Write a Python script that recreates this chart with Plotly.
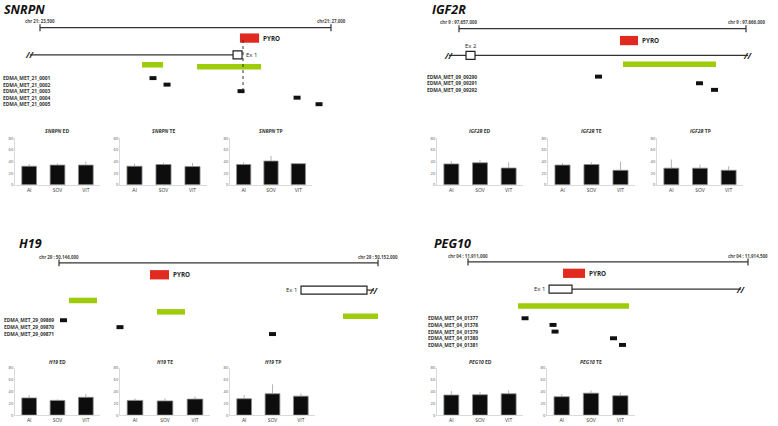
import plotly.graph_objects as go

W, H = 778, 426

# ---------------- data ----------------
groups = ["AI", "SOV", "VIT"]

snrpn_ed = [32, 34, 34]
snrpn_ed_err = [4, 3, 6]
snrpn_te = [32, 35, 31.5]
snrpn_te_err = [4.5, 3, 6]
snrpn_tp = [35, 41, 36.5]
snrpn_tp_err = [4, 9, 0.5]

igf2r_ed = [36, 38, 29]
igf2r_ed_err = [5, 4.5, 10]
igf2r_te = [34, 35, 25]
igf2r_te_err = [3.5, 3.7, 15]
igf2r_tp = [28.7, 28.7, 25]
igf2r_tp_err = [15, 6, 7]

h19_ed = [29, 24.8, 30]
h19_ed_err = [4.5, 1.7, 6]
h19_te = [24.8, 24, 27]
h19_te_err = [3.2, 4, 4.5]
h19_tp = [27.6, 36, 32]
h19_tp_err = [6, 16, 4.6]

peg10_ed = [33.8, 34.3, 36]
peg10_ed_err = [6.7, 5, 5.7]
peg10_te = [31, 37, 32.7]
peg10_te_err = [4, 4.7, 5.3]

# genomic features (bp)
snrpn_scale = [23500, 27000]
snrpn_scale_labels = ["chr 21: 23,500", "chr21: 27,000"]
snrpn_gene = [23380, 25822]
snrpn_exon = [25822, 25930]
snrpn_pyro = [25905, 26135]
snrpn_cpg = [[24727, 24980], [25389, 26159]]
snrpn_tss = 25942
snrpn_probes = ["EDMA_MET_21_0001", "EDMA_MET_21_0002", "EDMA_MET_21_0003",
                "EDMA_MET_21_0004", "EDMA_MET_21_0005"]
snrpn_probe_pos = [24859, 25028, 25918, 26592, 26856]

igf2r_scale = [97657000, 97666000]
igf2r_scale_labels = ["chr 9 : 97,657,000", "chr 9 : 97,666,000"]
igf2r_gene = [97656686, 97666063]
igf2r_exon = [97657220, 97657502]
igf2r_pyro = [97662049, 97662613]
igf2r_cpg = [[97662143, 97665059]]
igf2r_probes = ["EDMA_MET_09_09290", "EDMA_MET_09_09291", "EDMA_MET_09_09292"]
igf2r_probe_pos = [97661375, 97664542, 97665013]

h19_scale = [50146000, 50152000]
h19_scale_labels = ["chr 29 : 50,146,000", "chr 29 : 50,152,000"]
h19_gene = [50151793, 50151925]
h19_exon = [50150552, 50151793]
h19_pyro = [50147712, 50148069]
h19_cpg = [[50146188, 50146715], [50147843, 50148370], [50151342, 50152000]]
h19_probes = ["EDMA_MET_29_09869", "EDMA_MET_29_09870", "EDMA_MET_29_09871"]
h19_probe_pos = [50146085, 50147147, 50150016]

peg10_scale = [11911000, 11914500]
peg10_scale_labels = ["chr 04 : 11,911,000", "chr 04 : 11,914,500"]
peg10_gene = [11912300, 11914413]
peg10_exon = [11912013, 11912300]
peg10_pyro = [11912188, 11912463]
peg10_cpg = [[11911625, 11913013]]
peg10_probes = ["EDMA_MET_04_01377", "EDMA_MET_04_01378", "EDMA_MET_04_01379",
                "EDMA_MET_04_01380", "EDMA_MET_04_01381"]
peg10_probe_pos = [11911713, 11912063, 11912088, 11912819, 11912931]

# ---------------- layout helpers ----------------
RED = "#e02a1f"
GREEN = "#9ccc0a"
TXT = "#262626"
FONT = "Open Sans"

fig = go.Figure()
shapes = []
annots = []
layout = {}

def px_x(p):
    return p / W

def px_y(p):
    return 1 - p / H

# shared vertical axis for diagrams, in pixel rows
layout["yaxis"] = dict(domain=[0, 1], range=[H, 0], visible=False, fixedrange=True)

diagrams = [
    dict(name="SNRPN", scale=snrpn_scale, labels=snrpn_scale_labels, gene=snrpn_gene,
         exon=snrpn_exon, pyro=snrpn_pyro, cpg=snrpn_cpg, probes=snrpn_probes,
         probe_pos=snrpn_probe_pos, tss=snrpn_tss, exon_label="Ex 1", exon_side="right",
         breaks=["left"], dom=[0, 390], sx=[40, 331], title_x=2,
         rows=dict(title=6.5, lab=18, scale=25, pyro=35.5, gene=52.5, cpg=[62.5, 64.5],
                   probe0=76, dprobe=6.6, probe_x=1)),
    dict(name="IGF2R", scale=igf2r_scale, labels=igf2r_scale_labels, gene=igf2r_gene,
         exon=igf2r_exon, pyro=igf2r_pyro, cpg=igf2r_cpg, probes=igf2r_probes,
         probe_pos=igf2r_probe_pos, tss=None, exon_label="Ex 2", exon_side="top",
         breaks=["left", "right"], dom=[390, 778], sx=[459, 746], title_x=430,
         rows=dict(title=7, lab=19, scale=26, pyro=38, gene=53, cpg=[62],
                   probe0=74.5, dprobe=6.7, probe_x=425)),
    dict(name="H19", scale=h19_scale, labels=h19_scale_labels, gene=h19_gene,
         exon=h19_exon, pyro=h19_pyro, cpg=h19_cpg, probes=h19_probes,
         probe_pos=h19_probe_pos, tss=None, exon_label="Ex 1", exon_side="left",
         breaks=["right"], dom=[0, 390], sx=[59, 378], title_x=17,
         rows=dict(title=243, lab=257, scale=263, pyro=275, gene=290.5,
                   cpg=[301, 312.5, 317], probe0=321, dprobe=7, probe_x=2)),
    dict(name="PEG10", scale=peg10_scale, labels=peg10_scale_labels, gene=peg10_gene,
         exon=peg10_exon, pyro=peg10_pyro, cpg=peg10_cpg, probes=peg10_probes,
         probe_pos=peg10_probe_pos, tss=None, exon_label="Ex 1", exon_side="left",
         breaks=["right"], dom=[390, 778], sx=[468, 748], title_x=432,
         rows=dict(title=243.5, lab=256.5, scale=262, pyro=273.5, gene=289.5,
                   cpg=[306.5], probe0=319, dprobe=6.75, probe_x=426)),
]

for i, d in enumerate(diagrams):
    ax = "x" if i == 0 else f"x{i + 1}"
    key = "xaxis" if i == 0 else f"xaxis{i + 1}"
    r = d["rows"]
    # map pixel domain to genomic range using the scale bar ends
    bp_per_px = (d["scale"][1] - d["scale"][0]) / (d["sx"][1] - d["sx"][0])
    x_lo = d["scale"][0] - (d["sx"][0] - d["dom"][0]) * bp_per_px
    x_hi = d["scale"][0] + (d["dom"][1] - d["sx"][0]) * bp_per_px
    layout[key] = dict(domain=[px_x(d["dom"][0]), px_x(d["dom"][1])], range=[x_lo, x_hi],
                       visible=False, anchor="y", fixedrange=True)

    # gene title
    annots.append(dict(xref="paper", yref="y", x=px_x(d["title_x"]), y=r["title"],
                       text=f"<b><i>{d['name']}</i></b>", showarrow=False, xanchor="left",
                       yanchor="middle", font=dict(family=FONT, size=12.5, color="#111")))

    # scale bar
    s0, s1 = d["scale"]
    shapes.append(dict(type="line", xref=ax, yref="y", x0=s0, x1=s1, y0=r["scale"], y1=r["scale"],
                       line=dict(color="#333", width=1.2)))
    for s in (s0, s1):
        shapes.append(dict(type="line", xref=ax, yref="y", x0=s, x1=s, y0=r["scale"] - 3.5,
                           y1=r["scale"] + 3.5, line=dict(color="#333", width=1.2)))
    for s, lab in zip(d["scale"], d["labels"]):
        annots.append(dict(xref=ax, yref="y", x=s, y=r["lab"], text=f"<b>{lab}</b>",
                           showarrow=False, xanchor="center", yanchor="middle",
                           font=dict(family=FONT, size=4.4, color="#444")))

    # pyro amplicon
    shapes.append(dict(type="rect", xref=ax, yref="y", x0=d["pyro"][0], x1=d["pyro"][1],
                       y0=r["pyro"] - 4.7, y1=r["pyro"] + 4.7, fillcolor=RED, line=dict(width=0)))
    annots.append(dict(xref=ax, yref="y", x=d["pyro"][1], y=r["pyro"], text="<b>PYRO</b>",
                       showarrow=False, xanchor="left", xshift=2, yanchor="middle",
                       font=dict(family=FONT, size=6.3, color=TXT)))

    # gene line and exon
    g0, g1 = d["gene"]
    shapes.append(dict(type="line", xref=ax, yref="y", x0=g0, x1=g1, y0=r["gene"], y1=r["gene"],
                       line=dict(color="#333", width=1.2)))
    shapes.append(dict(type="rect", xref=ax, yref="y", x0=d["exon"][0], x1=d["exon"][1],
                       y0=r["gene"] - 4, y1=r["gene"] + 4, fillcolor="white",
                       line=dict(color="#222", width=1.2)))
    side = d["exon_side"]
    if side == "right":
        annots.append(dict(xref=ax, yref="y", x=d["exon"][1], y=r["gene"], text=d["exon_label"],
                           showarrow=False, xanchor="left", xshift=2, yanchor="middle",
                           font=dict(family=FONT, size=6, color=TXT)))
    elif side == "left":
        annots.append(dict(xref=ax, yref="y", x=d["exon"][0], y=r["gene"], text=d["exon_label"],
                           showarrow=False, xanchor="right", xshift=-2, yanchor="middle",
                           font=dict(family=FONT, size=6, color=TXT)))
    else:
        annots.append(dict(xref=ax, yref="y", x=sum(d["exon"]) / 2, y=r["gene"] - 9,
                           text=d["exon_label"], showarrow=False, xanchor="center",
                           yanchor="middle", font=dict(family=FONT, size=6, color=TXT)))
    for b in d["breaks"]:
        annots.append(dict(xref=ax, yref="y", x=g0 if b == "left" else g1, y=r["gene"],
                           text="<b><i>//</i></b>", showarrow=False, xanchor="center",
                           yanchor="middle", font=dict(family=FONT, size=8.5, color="#222")))

    # CpG islands
    for (c0, c1), cy in zip(d["cpg"], r["cpg"]):
        shapes.append(dict(type="rect", xref=ax, yref="y", x0=c0, x1=c1, y0=cy - 2.8,
                           y1=cy + 2.8, fillcolor=GREEN, line=dict(width=0)))

    # probes
    for k, (lab, p) in enumerate(zip(d["probes"], d["probe_pos"])):
        py = r["probe0"] + k * r["dprobe"]
        annots.append(dict(xref="paper", yref="y", x=px_x(r["probe_x"]), y=py,
                           text=f"<b>{lab}</b>", showarrow=False, xanchor="left",
                           yanchor="middle", font=dict(family=FONT, size=4.9, color="#333")))
        shapes.append(dict(type="rect", xref=ax, yref="y", xsizemode="pixel", xanchor=p,
                           x0=-3.5, x1=3.5, y0=py - 2, y1=py + 2, fillcolor="#111",
                           line=dict(width=0)))

    if d["tss"] is not None:
        shapes.append(dict(type="line", xref=ax, yref="y", x0=d["tss"], x1=d["tss"],
                           y0=r["pyro"] + 2, y1=r["probe0"] + 2 * r["dprobe"] - 2,
                           line=dict(color="#333", width=1, dash="dot")))

# ---------------- bar charts ----------------
charts = [
    ("SNRPN", "ED", snrpn_ed, snrpn_ed_err, (15, 100), (130, 137, 184)),
    ("SNRPN", "TE", snrpn_te, snrpn_te_err, (120, 207), (130, 137, 184)),
    ("SNRPN", "TP", snrpn_tp, snrpn_tp_err, (230, 312), (130, 137, 184)),
    ("IGF2R", "ED", igf2r_ed, igf2r_ed_err, (437, 523), (130, 137, 184)),
    ("IGF2R", "TE", igf2r_te, igf2r_te_err, (548, 635), (130, 137, 184)),
    ("IGF2R", "TP", igf2r_tp, igf2r_tp_err, (657, 743), (130, 137, 184)),
    ("H19", "ED", h19_ed, h19_ed_err, (15, 100), (363, 369, 417)),
    ("H19", "TE", h19_te, h19_te_err, (120, 210), (363, 369, 417)),
    ("H19", "TP", h19_tp, h19_tp_err, (230, 315), (363, 369, 417)),
    ("PEG10", "ED", peg10_ed, peg10_ed_err, (437, 523), (363, 369, 417)),
    ("PEG10", "TE", peg10_te, peg10_te_err, (547, 635), (363, 369, 417)),
]

for j, (gene, tissue, vals, errs, (xa, xb), (ty, ytop, ybot)) in enumerate(charts):
    n = j + 5
    ny = j + 2
    fig.add_trace(go.Bar(
        x=groups, y=vals, xaxis=f"x{n}", yaxis=f"y{ny}", width=0.52,
        marker=dict(color="#0d0d0d", line=dict(color="#8c8c8c", width=0.8)),
        error_y=dict(type="data", symmetric=False, array=errs, arrayminus=[0] * len(errs),
                     color="#a0a0a0", thickness=0.8, width=0),
        showlegend=False, hoverinfo="x+y"))
    layout[f"xaxis{n}"] = dict(domain=[px_x(xa), px_x(xb)], anchor=f"y{ny}", type="category",
                               range=[-0.5, 2.5], showline=True, linecolor="#d9d9d9",
                               linewidth=1, ticks="", showgrid=False, fixedrange=True,
                               tickfont=dict(family=FONT, size=5, color="#333"))
    layout[f"yaxis{ny}"] = dict(domain=[px_y(ybot), px_y(ytop)], anchor=f"x{n}", range=[0, 80],
                                dtick=20, showline=True, linecolor="#d9d9d9", linewidth=1,
                                ticks="", showgrid=False, zeroline=False, fixedrange=True,
                                tickfont=dict(family=FONT, size=4, color="#555"))
    annots.append(dict(xref="paper", yref="paper", x=px_x((xa + xb) / 2), y=px_y(ty),
                       text=f"<b><i>{gene}</i> {tissue}</b>", showarrow=False,
                       xanchor="center", yanchor="middle",
                       font=dict(family=FONT, size=5, color="#333")))

# keep the diagram axes drawn via an invisible trace on each
for i, d in enumerate(diagrams):
    ax = "x" if i == 0 else f"x{i + 1}"
    fig.add_trace(go.Scatter(x=d["scale"], y=[d["rows"]["scale"]] * 2, xaxis=ax, yaxis="y",
                             mode="lines", line=dict(width=0), showlegend=False,
                             hoverinfo="skip"))

fig.update_layout(
    width=W, height=H, margin=dict(l=0, r=0, t=0, b=0),
    paper_bgcolor="white", plot_bgcolor="rgba(0,0,0,0)",
    font=dict(family=FONT, color=TXT),
    shapes=shapes, annotations=annots, bargap=0.4,
    **layout,
)

# the page body has a default margin; drop it so the figure fills the window
fig.write_html("out.html", config={"displayModeBar": False},
               post_script="document.body.style.margin='0';")
